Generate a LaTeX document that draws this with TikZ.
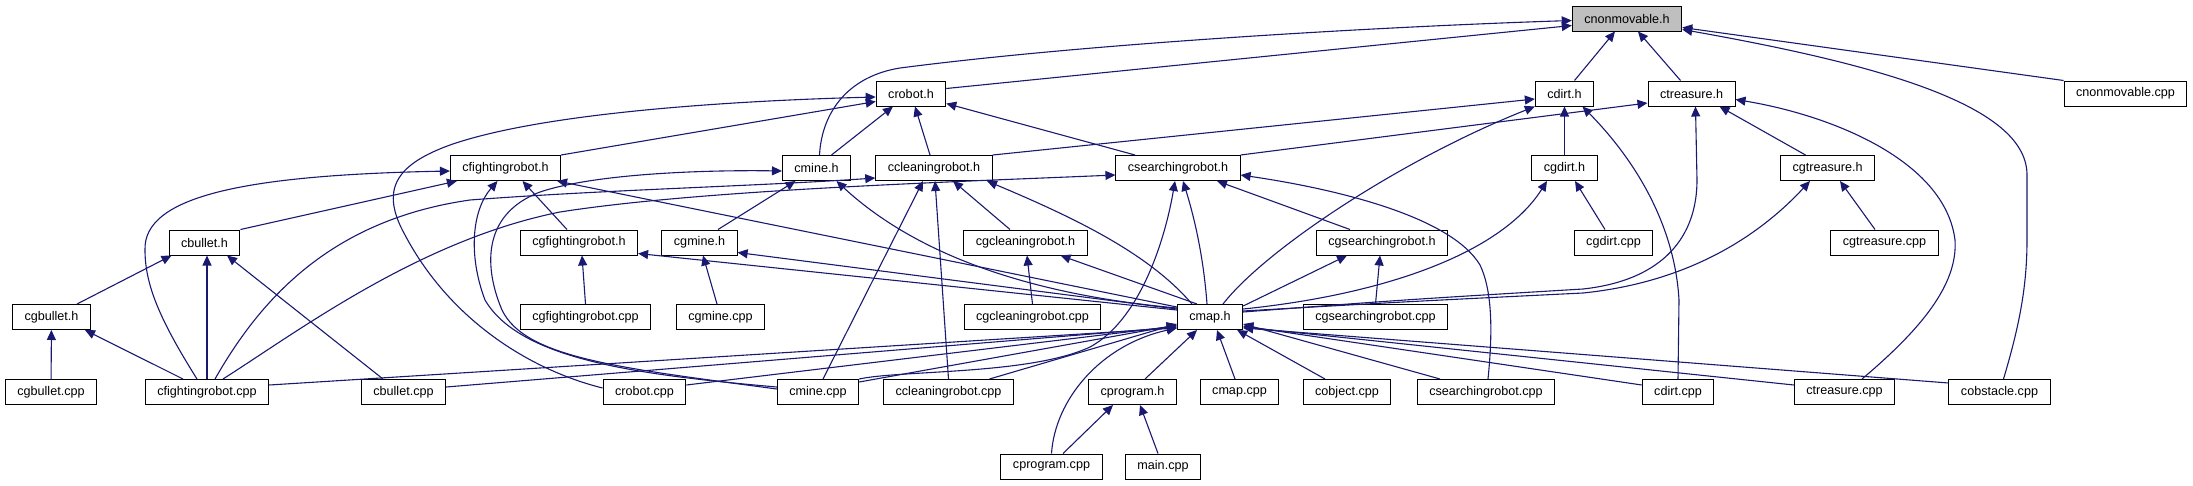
\documentclass[tikz,border=0pt]{standalone}
\usepackage{fontspec}
\setmainfont{Liberation Sans}
\usepackage{xcolor}
\usetikzlibrary{arrows.meta}
\definecolor{edgeblue}{HTML}{191970}
\definecolor{rootgray}{HTML}{BFBFBF}

\begin{document}
\begin{tikzpicture}[x=1pt, y=-1pt,
    every node/.style={rectangle, draw=black, line width=1pt, fill=white, minimum height=25pt,
        inner xsep=12pt, inner ysep=0pt, font=\fontsize{12.6}{14}\selectfont},
    inc/.style={draw=edgeblue, line width=1.1pt, -{Triangle[length=10pt, width=9pt]}}]
    \useasboundingbox (0,0) rectangle (2193,485);

    \node[fill=rootgray] (cnonmovable) at (1627,18.5) {cnonmovable.h};

    \node (crobot) at (911,93.5) {crobot.h};
    \node (cdirt) at (1564.5,93.5) {cdirt.h};
    \node (ctreasure) at (1691.5,93.5) {ctreasure.h};
    \node (cnonmovablecpp) at (2125.5,93.5) {cnonmovable.cpp};

    \node (cfightingrobot) at (505.5,168) {cfightingrobot.h};
    \node (cmine) at (816.5,168) {cmine.h};
    \node (ccleaningrobot) at (934,168) {ccleaningrobot.h};
    \node (csearchingrobot) at (1178,168) {csearchingrobot.h};
    \node (cgdirt) at (1564.5,168) {cgdirt.h};
    \node (cgtreasure) at (1827.5,168) {cgtreasure.h};

    \node (cbullet) at (204.5,242.5) {cbullet.h};
    \node (cgfightingrobot) at (579,242.5) {cgfightingrobot.h};
    \node (cgmine) at (699.5,242.5) {cgmine.h};
    \node (cgcleaningrobot) at (1025.5,242.5) {cgcleaningrobot.h};
    \node (cgsearchingrobot) at (1382,242.5) {cgsearchingrobot.h};
    \node (cgdirtcpp) at (1613.5,242.5) {cgdirt.cpp};
    \node (cgtreasurecpp) at (1884.5,242.5) {cgtreasure.cpp};

    \node (cgbullet) at (51.5,317) {cgbullet.h};
    \node (cgfightingrobotcpp) at (585.5,317) {cgfightingrobot.cpp};
    \node (cgminecpp) at (720.5,317) {cgmine.cpp};
    \node (cgcleaningrobotcpp) at (1032.5,317) {cgcleaningrobot.cpp};
    \node (cmap) at (1210,317) {cmap.h};
    \node (cgsearchingrobotcpp) at (1375.5,317) {cgsearchingrobot.cpp};

    \node (cgbulletcpp) at (51,392) {cgbullet.cpp};
    \node (cfightingrobotcpp) at (207,392) {cfightingrobot.cpp};
    \node (cbulletcpp) at (403.5,392) {cbullet.cpp};
    \node (crobotcpp) at (644.5,392) {crobot.cpp};
    \node (cminecpp) at (818,392) {cmine.cpp};
    \node (ccleaningrobotcpp) at (948.5,392) {ccleaningrobot.cpp};
    \node (cprogram) at (1132.5,392) {cprogram.h};
    \node (cmapcpp) at (1239.5,392) {cmap.cpp};
    \node (cobjectcpp) at (1347,392) {cobject.cpp};
    \node (csearchingrobotcpp) at (1486,392) {csearchingrobot.cpp};
    \node (cdirtcpp) at (1678,392) {cdirt.cpp};
    \node (ctreasurecpp) at (1844.5,392) {ctreasure.cpp};
    \node (cobstaclecpp) at (1999.5,392) {cobstacle.cpp};

    \node (cprogramcpp) at (1051.5,466.5) {cprogram.cpp};
    \node (maincpp) at (1163,466.5) {main.cpp};

    % cnonmovable.h
    \draw[inc] ([xshift=10]cdirt.north) -- ([xshift=-12]cnonmovable.south);
    \draw[inc] ([xshift=-11]ctreasure.north) -- ([xshift=11]cnonmovable.south);
    \draw[inc] ([yshift=5]crobot.east) -- ([yshift=-7]cnonmovable.west);
    \draw[inc] ([xshift=3]cmine.north) .. controls (822,110) and (850,76) .. (900,68)
        .. controls (1100,42) and (1400,26) .. ([yshift=-2]cnonmovable.west);
    \draw[inc] (cnonmovablecpp.north west) -- ([yshift=-9]cnonmovable.east);
    \draw[inc] ([xshift=4]cobstaclecpp.north) .. controls (2018,330) and (2027,290) .. (2027,240)
        -- (2027,175) .. controls (2027,110) and (1900,68) .. ([yshift=-11]cnonmovable.east);

    % crobot.h
    \draw[inc] (cfightingrobot.north east) -- ([yshift=-8]crobot.west);
    \draw[inc] ([xshift=15]cmine.north) -- ([xshift=-18]crobot.south);
    \draw[inc] ([xshift=-4]ccleaningrobot.north) -- ([xshift=4]crobot.south);
    \draw[inc] ([xshift=-43]csearchingrobot.north) -- ([yshift=-10]crobot.east);
    \draw[inc] ([yshift=4]crobotcpp.west) .. controls (530,370) and (450,320) .. (405,235)
        .. controls (380,190) and (395,165) .. (450,145)
        .. controls (550,110) and (760,100) .. ([yshift=-3.5]crobot.west);

    % cdirt.h
    \draw[inc] (ccleaningrobot.north east) -- ([yshift=-5.5]cdirt.west);
    \draw[inc] (cgdirt) -- (cdirt);
    \draw[inc] ([xshift=13]cmap.north) .. controls (1265,250) and (1400,160) .. (cdirt.south west);
    \draw[inc] (cdirtcpp.north) -- (1679,300) .. controls (1675,230) and (1640,165) .. ([xshift=18]cdirt.south);

    % ctreasure.h
    \draw[inc] (csearchingrobot.north east) -- ([yshift=-9.5]ctreasure.west);
    \draw[inc] ([xshift=-22]cgtreasure.north) -- ([xshift=28]ctreasure.south);
    \draw[inc] ([yshift=5]cmap.east) .. controls (1400,300) .. (1583,289)
        .. controls (1665,280) and (1697,235) .. (1697,180) -- ([xshift=4]ctreasure.south);
    \draw[inc] ([xshift=17.5]ctreasurecpp.north) .. controls (1920,330) and (1958,285) .. (1955,240)
        .. controls (1945,160) and (1830,115) .. ([yshift=-6]ctreasure.east);

    % cfightingrobot.h
    \draw[inc] (cbullet.north east) -- ([xshift=7]cfightingrobot.south west);
    \draw[inc] ([xshift=-12]cgfightingrobot.north) -- ([xshift=17]cfightingrobot.south);
    \draw[inc] ([yshift=10]cmap.west) -- ([xshift=-4]cfightingrobot.south east);
    \draw[inc] ([xshift=-10]cfightingrobotcpp.north) .. controls (160,320) and (145,285) .. (145,250)
        .. controls (143,195) and (250,175) .. ([yshift=-3]cfightingrobot.west);
    \draw[inc] ([yshift=5]cminecpp.west) .. controls (640,375) and (520,360) .. (485,300)
        .. controls (468,255) and (472,210) .. ([xshift=-8]cfightingrobot.south);

    % cmine.h
    \draw[inc] ([xshift=18.5]cgmine.north) -- ([xshift=-21]cmine.south);
    \draw[inc] ([yshift=9]cmap.west) .. controls (1000,292) and (900,240) .. ([xshift=20]cmine.south);
    \draw[inc] ([yshift=3]cminecpp.west) .. controls (620,368) and (525,358) .. (502,310)
        .. controls (485,270) and (480,215) .. (540,192)
        .. controls (600,172) and (720,170) .. ([yshift=-3]cmine.west);

    % ccleaningrobot.h
    \draw[inc] ([xshift=-18]cmap.north) .. controls (1150,255) and (1080,220) .. ([xshift=53]ccleaningrobot.south);
    \draw[inc] ([xshift=-15.5]cgcleaningrobot.north) -- ([xshift=19]ccleaningrobot.south);
    \draw[inc] ([xshift=5]cminecpp.north) -- ([xshift=-11]ccleaningrobot.south);
    \draw[inc] (ccleaningrobotcpp.north) -- ([xshift=1]ccleaningrobot.south);
    \draw[inc] ([xshift=8]cfightingrobotcpp.north) .. controls (260,300) and (330,220) .. (470,200)
        .. controls (600,190) and (760,186) .. ([yshift=-10]ccleaningrobot.west);

    % csearchingrobot.h
    \draw[inc] ([xshift=-32]cgsearchingrobot.north) -- ([xshift=39]csearchingrobot.south);
    \draw[inc] ([xshift=-3]cmap.north) .. controls (1203,250) and (1192,210) .. ([xshift=5]csearchingrobot.south);
    \draw[inc] (cminecpp.north east) .. controls (900,370) and (1030,375) .. (1090,347)
        .. controls (1140,320) and (1165,240) .. ([xshift=-3]csearchingrobot.south);
    \draw[inc] ([xshift=2]csearchingrobotcpp.north) .. controls (1493,330) and (1492,290) .. (1480,265)
        .. controls (1450,215) and (1330,188) .. ([yshift=-7]csearchingrobot.east);
    \draw[inc] ([xshift=16]cfightingrobotcpp.north) .. controls (300,330) and (420,240) .. (560,212)
        .. controls (700,190) and (950,182) .. ([yshift=-7]csearchingrobot.west);

    % cgdirt.h, cgtreasure.h
    \draw[inc] ([xshift=-8.5]cgdirtcpp.north) -- ([xshift=10.5]cgdirt.south);
    \draw[inc] ([yshift=8]cmap.east) .. controls (1380,295) and (1500,255) .. ([xshift=-17.5]cgdirt.south);
    \draw[inc] ([xshift=-9.5]cgtreasurecpp.north) -- ([xshift=12.5]cgtreasure.south);
    \draw[inc] ([yshift=6]cmap.east) .. controls (1400,302) .. (1583,293)
        .. controls (1690,282) and (1760,235) .. ([xshift=-17.5]cgtreasure.south);

    % cbullet.h, cgbullet.h
    \draw[inc] ([xshift=25.5]cgbullet.north) -- ([xshift=3]cbullet.south west);
    \draw[inc] (cfightingrobotcpp.north) -- ([xshift=2.5]cbullet.south);
    \draw[inc] ([xshift=-20.5]cbulletcpp.north) -- ([xshift=22.5]cbullet.south);
    \draw[inc] (cgbulletcpp) -- (cgbullet);
    \draw[inc] ([xshift=-24]cfightingrobotcpp.north) -- ([xshift=-6]cgbullet.south east);

    % cg*.h
    \draw[inc] (cgfightingrobotcpp.north) -- ([xshift=3]cgfightingrobot.south);
    \draw[inc] ([yshift=7]cmap.west) -- ([yshift=2]cgfightingrobot.south east);
    \draw[inc] ([xshift=-3.5]cgminecpp.north) -- ([xshift=3.5]cgmine.south);
    \draw[inc] ([yshift=8]cmap.west) -- ([yshift=3]cgmine.south east);
    \draw[inc] (cgcleaningrobotcpp.north) -- ([xshift=1.5]cgcleaningrobot.south);
    \draw[inc] ([xshift=-13]cmap.north) -- ([xshift=35]cgcleaningrobot.south);
    \draw[inc] (cgsearchingrobotcpp.north) -- ([xshift=-2]cgsearchingrobot.south);
    \draw[inc] ([yshift=11]cmap.east) -- ([xshift=-35]cgsearchingrobot.south);

    % cmap.h, cprogram.h
    \draw[inc] ([xshift=11.5]cprogramcpp.north) -- ([xshift=-19.5]cprogram.south);
    \draw[inc] ([xshift=-5]maincpp.north) -- ([xshift=7.5]cprogram.south);
    \draw[inc] ([xshift=12.5]cprogram.north) -- ([xshift=-13]cmap.south);
    \draw[inc] (cprogramcpp.north) .. controls (1055,400) and (1100,345) .. ([yshift=-11]cmap.west);
    \draw[inc] ([xshift=-4.5]cmapcpp.north) -- ([xshift=7]cmap.south);
    \draw[inc] ([xshift=-22]cobjectcpp.north) -- ([xshift=-6]cmap.south east);
    \draw[inc] ([xshift=-46]csearchingrobotcpp.north) -- ([yshift=-7]cmap.east);
    \draw[inc] ([yshift=7]cdirtcpp.west) -- ([yshift=-9]cmap.east);
    \draw[inc] ([yshift=7]ctreasurecpp.west) -- ([yshift=-10]cmap.east);
    \draw[inc] ([yshift=9]cobstaclecpp.west) -- ([yshift=-11]cmap.east);
    \draw[inc] ([yshift=10]cminecpp.east) -- ([yshift=-8]cmap.west);
    \draw[inc] ([xshift=41]ccleaningrobotcpp.north) -- ([yshift=-7]cmap.west);
    \draw[inc] ([yshift=7]crobotcpp.east) -- ([yshift=-9]cmap.west);
    \draw[inc] ([yshift=5]cbulletcpp.east) -- ([yshift=-10]cmap.west);
    \draw[inc] ([yshift=7]cfightingrobotcpp.east) -- ([yshift=-11]cmap.west);
\end{tikzpicture}
\end{document}
